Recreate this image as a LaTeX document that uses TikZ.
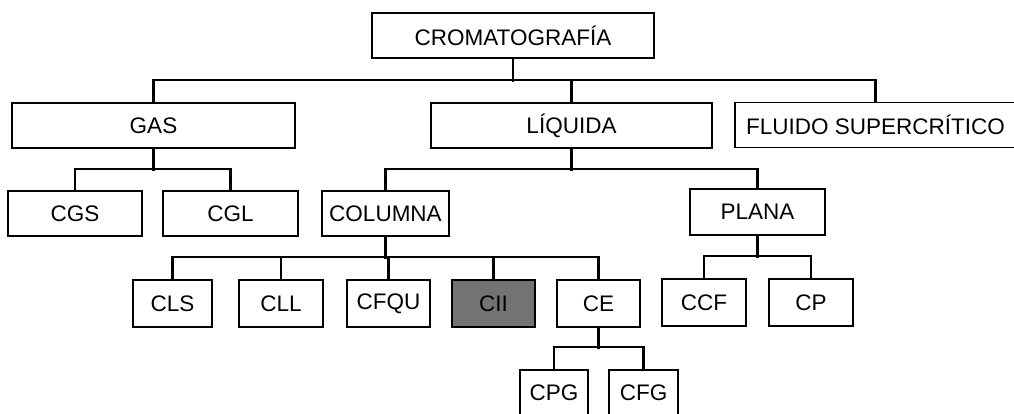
\documentclass[tikz,border=0pt]{standalone}
\usepackage{fontspec}
\setmainfont{Liberation Sans}
\usetikzlibrary{calc}
\begin{document}
\begin{tikzpicture}[x=1pt,y=-1pt,
  box/.style={draw=black,line width=1.5pt,fill=white,inner sep=0pt,minimum height=45pt,
    font=\fontsize{22.5}{27}\selectfont},
  conn/.style={draw=black,line width=2.2pt},
  hl/.style={fill=black!55}]
\useasboundingbox (0,0) rectangle (1014,413);
\fill[white] (0,0) rectangle (1014,413);
\clip (0,0) rectangle (1014,413);
% level 0
\node[box,minimum width=282pt] (crom) at (513,35.5) {CROMATOGRAFÍA};
% level 1
\node[box,minimum width=283pt] (gas) at (153.5,125.5) {GAS};
\node[box,minimum width=281pt] (liq) at (571.5,125.5) {LÍQUIDA};
\node[box,minimum width=281pt] (fluido) at (875.5,125) {FLUIDO SUPERCRÍTICO};
% level 2
\node[box,minimum width=134pt] (cgs) at (75,213.5) {CGS};
\node[box,minimum width=135pt] (cgl) at (230.5,213.5) {CGL};
\node[box,minimum width=127pt] (col) at (385.5,213.5) {COLUMNA};
\node[box,minimum width=135pt,minimum height=46pt] (plana) at (757.5,212) {PLANA};
% level 3
\node[box,minimum width=79pt,minimum height=47pt] (cls) at (172.5,303.5) {CLS};
\node[box,minimum width=84pt,minimum height=47pt] (cll) at (281,303.5) {CLL};
\node[box,minimum width=83pt,minimum height=47pt] (cfqu) at (388.5,303.5) {CFQU};
\node[box,hl,minimum width=83pt,minimum height=47pt] (cii) at (493.5,303.5) {CII};
\node[box,minimum width=83pt,minimum height=47pt] (ce) at (598.5,303.5) {CE};
\node[box,minimum width=84pt,minimum height=47pt] (ccf) at (704,302.5) {CCF};
\node[box,minimum width=84pt,minimum height=47pt] (cp) at (811,302.5) {CP};
% level 4
\node[box,minimum width=68pt] (cpg) at (554,392.5) {CPG};
\node[box,minimum width=69pt] (cfg) at (643.5,392.5) {CFG};
% connectors
\draw[conn] (crom.south) -- ++(0,23);
\draw[conn] (gas.north) |- ($(fluido.north)+(0,-22)$) -- (fluido.north);
\draw[conn] (liq.north) -- ++(0,-22);
\draw[conn] (gas.south) -- ++(0,22);
\draw[conn] (cgs.north) |- ($(cgl.north)+(0,-21)$) -- (cgl.north);
\draw[conn] (liq.south) -- ++(0,22);
\draw[conn] (col.north) |- ($(plana.north)+(0,-19)$) -- (plana.north);
\draw[conn] (col.south) -- ++(0,22);
\draw[conn] (cls.north) |- ($(ce.north)+(0,-22)$) -- (ce.north);
\draw[conn] (cll.north) -- ++(0,-22);
\draw[conn] (cfqu.north) -- ++(0,-22);
\draw[conn] (cii.north) -- ++(0,-22);
\draw[conn] (plana.south) -- ++(0,22);
\draw[conn] (ccf.north) |- ($(cp.north)+(0,-22)$) -- (cp.north);
\draw[conn] (ce.south) -- ++(0,21);
\draw[conn] (cpg.north) |- ($(cfg.north)+(0,-22)$) -- (cfg.north);
\end{tikzpicture}
\end{document}
